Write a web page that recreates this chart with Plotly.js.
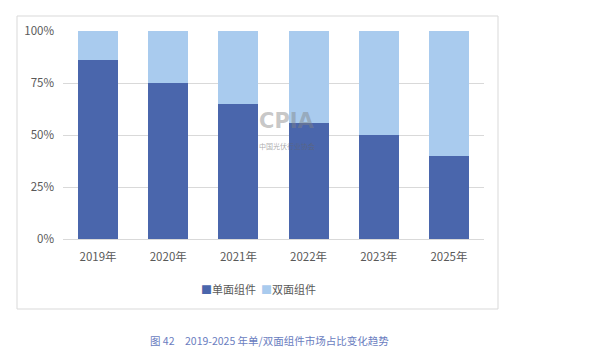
<!DOCTYPE html>
<html><head><meta charset="utf-8">
<script src="https://cdn.plot.ly/plotly-3.0.1.min.js"></script>
<style>html,body{margin:0;padding:0;background:#fff}</style>
</head><body><div id="c" style="width:599px;height:355px"></div>
<script>
const years = ["2019年","2020年","2021年","2022年","2023年","2025年"];
const single = [86, 75, 65, 56, 50, 40];
const bifacial = [14, 25, 35, 44, 50, 60];
const seriesNames = ["单面组件","双面组件"];
const yTicks = [0,25,50,75,100];
const yTickText = ["0%","25%","50%","75%","100%"];
const caption = "图 42　2019-2025 年单/双面组件市场占比变化趋势";

const F = "Noto Sans CJK SC, sans-serif";
const colors = ['#4A66AC','#A9CBEE'];
const data = [
 {type:'bar', x:years, y:single, name:seriesNames[0], marker:{color:colors[0], line:{width:0}}, hoverinfo:'skip'},
 {type:'bar', x:years, y:bifacial, name:seriesNames[1], marker:{color:colors[1], line:{width:0}}, hoverinfo:'skip'}
];
const W=421, H=208;
const legendText = seriesNames.map((n,i)=>"<span style='color:"+colors[i]+"'>■</span>"+n).join("  ");
const layout = {
 width:599, height:355,
 margin:{l:63, r:115, t:31, b:116},
 barmode:'stack', bargap:0.43,
 paper_bgcolor:'#fff', plot_bgcolor:'#fff',
 font:{family:F, size:12, color:'#595959'},
 xaxis:{showline:false, ticks:'', ticklabelstandoff:9, tickfont:{size:11.5,color:'#595959'}, fixedrange:true},
 yaxis:{range:[0,100], tickvals:yTicks, ticktext:yTickText, showgrid:true, gridcolor:'#D9D9D9', gridwidth:1,
        zeroline:true, zerolinecolor:'#D9D9D9', showline:false, ticks:'', ticklabelstandoff:8,
        tickfont:{size:11.5,color:'#595959'}, fixedrange:true},
 showlegend:false,
 shapes:[{type:'rect', xref:'paper', yref:'paper', x0:(17-63)/W, x1:(498-63)/W, y0:(239-309)/H, y1:(239-16)/H,
          line:{color:'#D9D9D9', width:1}, fillcolor:'rgba(0,0,0,0)', layer:'below'}],
 annotations:[
  {text:legendText, xref:'paper', yref:'paper', x:(258-63)/W, y:(239-289)/H, showarrow:false,
   font:{family:F, size:11, color:'#595959'}, xanchor:'center', yanchor:'middle'},
  {text:caption, xref:'paper', yref:'paper', x:(269-63)/W, y:(239-340)/H, showarrow:false,
   font:{family:F, size:10.5, color:'#6A7DC0'}, xanchor:'center', yanchor:'middle'},
  {text:'<b>CPIA</b>', xref:'paper', yref:'paper', x:(287-63)/W, y:(239-121)/H, showarrow:false,
   font:{family:'DejaVu Sans, sans-serif', size:21, color:'rgba(130,130,130,0.45)'}, xanchor:'center', yanchor:'middle'},
  {text:'中国光伏行业协会', xref:'paper', yref:'paper', x:(287-63)/W, y:(239-146)/H, showarrow:false,
   font:{family:F, size:7, color:'rgba(100,100,100,0.55)'}, xanchor:'center', yanchor:'middle'}
 ]
};
Plotly.newPlot('c', data, layout, {displayModeBar:false, staticPlot:true});
</script></body></html>
